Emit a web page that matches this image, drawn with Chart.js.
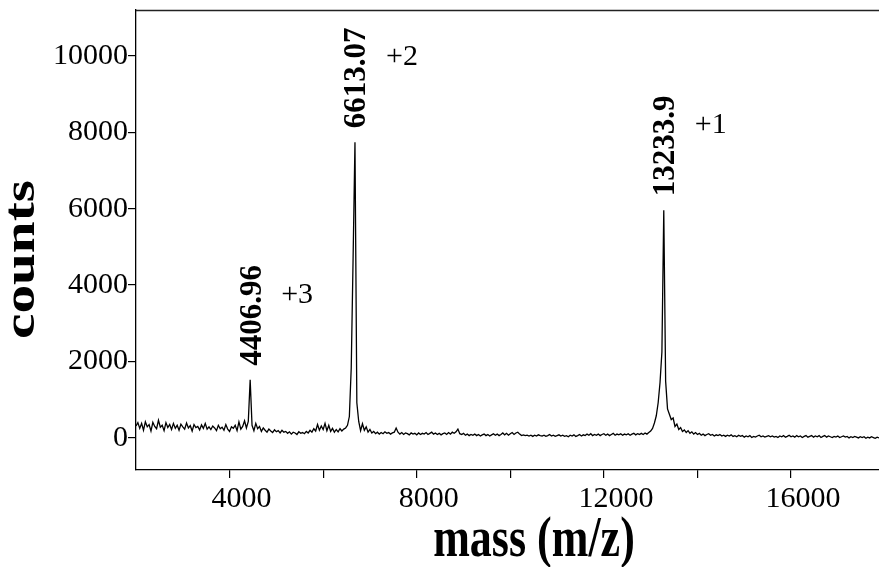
<!DOCTYPE html>
<html>
<head>
<meta charset="utf-8">
<script src="https://cdn.jsdelivr.net/npm/chart.js@4.4.0/dist/chart.umd.min.js"></script>
<style>
  html, body { margin: 0; padding: 0; background: #fff; }
  #wrap { width: 879px; height: 567px; position: relative; }
</style>
</head>
<body>
<div id="wrap"><canvas id="js-chart-spectrum"></canvas></div>
<script>
// spectrum sampled every 40 Da from 2000 Da
const massStart = 2000;
const massStep = 40;
const counts = [
  310, 400, 250, 380, 200, 420, 290, 350, 180, 410, 300, 240, 460, 280, 330, 190, 400, 270, 350, 220,
  380, 250, 330, 200, 360, 290, 230, 390, 260, 320, 180, 350, 270, 300, 210, 340, 250, 380, 230, 290,
  220, 310, 260, 190, 330, 240, 280, 200, 350, 230, 170, 290, 250, 330, 190, 420, 230, 300, 450, 260,
  430, 1520, 330, 190, 380, 240, 300, 170, 260, 200, 150, 230, 180, 140, 210, 160, 190, 130, 200, 150,
  170, 120, 160, 100, 150, 130, 90, 160, 120, 140, 110, 170, 130, 200, 150, 240, 180, 350, 200, 310,
  220, 380, 190, 330, 170, 250, 150, 220, 160, 240, 180, 230, 260, 330, 560, 1830, 4700, 7740, 920, 430,
  190, 370, 200, 290, 150, 220, 130, 170, 110, 150, 100, 140, 110, 160, 120, 140, 100, 130, 150, 260,
  150, 100, 140, 90, 130, 110, 80, 130, 100, 120, 80, 130, 90, 120, 100, 140, 90, 120, 150, 100,
  130, 90, 120, 80, 110, 130, 90, 140, 100, 150, 120, 160, 230, 110, 90, 120, 70, 100, 60, 90,
  70, 100, 60, 90, 50, 80, 100, 60, 90, 50, 80, 110, 70, 100, 60, 90, 130, 80, 120, 70,
  110, 140, 90, 130, 150, 100, 60, 80, 60, 70, 50, 70, 40, 70, 50, 80, 60, 50, 70, 40,
  60, 90, 50, 70, 40, 60, 80, 50, 70, 40, 60, 30, 70, 50, 80, 40, 60, 90, 50, 80,
  60, 100, 70, 110, 60, 90, 70, 100, 60, 90, 110, 70, 100, 60, 90, 120, 70, 100, 80, 110,
  70, 100, 80, 110, 70, 100, 120, 80, 110, 90, 120, 90, 130, 100, 140, 180, 250, 390, 580, 920,
  1450, 2250, 5960, 1480, 760, 620, 480, 520, 300, 360, 220, 270, 170, 210, 140, 190, 120, 160, 100, 140,
  90, 120, 70, 100, 60, 90, 110, 70, 90, 50, 80, 60, 90, 50, 70, 40, 70, 50, 80, 40,
  60, 30, 70, 40, 60, 20, 50, 30, 60, 10, 40, 20, 50, 70, 30, 50, 20, 40, 60, 30,
  50, 20, 40, 10, 50, 30, 60, 20, 40, 70, 30, 50, 20, 60, 30, 50, 10, 40, 60, 20,
  40, 60, 20, 50, 30, 60, 10, 40, 60, 20, 50, 30, 10, 40, 20, 50, 10, 30, 50, 20,
  40, 0, 30, 10, 40, 20, 0, 30, 10, 30, -10, 20, 0, 30, 10, -10, 20, 0
];

const peakMasses = [4406.96, 6613.07, 13233.9];
const peakLabels = ["4406.96", "6613.07", "13233.9"];
const chargeLabels = ["+3", "+2", "+1"];

const massTicks = [4000, 6000, 8000, 10000, 12000, 14000, 16000];
const massTickLabels = [4000, 8000, 12000, 16000];
const countTicks = [0, 2000, 4000, 6000, 8000, 10000];

const serif = '"Liberation Serif", "Times New Roman", serif';
Chart.defaults.font.family = serif;
Chart.defaults.color = "#000";

const points = counts.map((c, i) => ({ x: massStart + i * massStep, y: c }));

// peak labels + axis titles + top frame line
const spectrumDecor = {
    id: "spectrumDecor",
    afterDraw(chart) {
        const ctx = chart.ctx, a = chart.chartArea;
        const xs = chart.scales.x, ys = chart.scales.y;
        ctx.save();
        ctx.strokeStyle = "#222";
        ctx.lineWidth = 1.3;
        ctx.beginPath();
        ctx.moveTo(a.left, a.top + 0.5);
        ctx.lineTo(a.right, a.top + 0.5);
        ctx.stroke();

        ctx.fillStyle = "#000";
        peakMasses.forEach((m, k) => {
            // apex = highest sample within 200 Da of the labelled mass
            let best = null;
            points.forEach(p => {
                if (Math.abs(p.x - m) <= 200 && (!best || p.y > best.y)) best = p;
            });
            const px = xs.getPixelForValue(best.x);
            const py = ys.getPixelForValue(best.y);
            ctx.font = "bold 31px " + serif;
            const w = ctx.measureText(peakLabels[k]).width;
            ctx.save();
            ctx.translate(px, py - 14);
            ctx.rotate(-Math.PI / 2);
            ctx.textAlign = "left";
            ctx.textBaseline = "alphabetic";
            ctx.fillText(peakLabels[k], 0, 10.5);
            ctx.restore();
            const top = py - 14 - w;
            ctx.font = "30px " + serif;
            ctx.textAlign = "left";
            ctx.textBaseline = "alphabetic";
            ctx.fillText(chargeLabels[k], px + 31, top + 38);
        });

        ctx.font = "bold 44px " + serif;
        ctx.textAlign = "center";
        ctx.textBaseline = "alphabetic";
        ctx.save();
        ctx.translate(534, 556);
        ctx.scale(1, 1.3);
        ctx.fillText("mass (m/z)", 0, 0);
        ctx.restore();
        ctx.save();
        ctx.translate(34, 259.5);
        ctx.rotate(-Math.PI / 2);
        ctx.scale(1.3, 1);
        ctx.fillText("counts", 0, 0);
        ctx.restore();
        ctx.restore();
    }
};

new Chart(document.getElementById("js-chart-spectrum"), {
    type: "line",
    data: {
        datasets: [{
            data: points,
            borderColor: "#000",
            borderWidth: 1.3,
            pointRadius: 0,
            tension: 0,
            fill: false
        }]
    },
    options: {
        responsive: true,
        maintainAspectRatio: false,
        animation: false,
        layout: { padding: { top: 10, right: 0, bottom: 0, left: 0 } },
        plugins: { legend: { display: false }, tooltip: { enabled: false } },
        scales: {
            x: {
                type: "linear",
                min: 2000,
                max: 17880,
                afterBuildTicks: s => { s.ticks = massTicks.map(v => ({ value: v })); },
                afterFit: s => { s.height = 97; s.paddingLeft = 0; s.paddingRight = 0; },
                ticks: {
                    autoSkip: false,
                    maxRotation: 0,
                    padding: 3,
                    labelOffset: 12,
                    font: { size: 30 },
                    color: "#000",
                    callback: v => massTickLabels.includes(v) ? String(v) : ""
                },
                grid: { display: true, drawOnChartArea: false, drawTicks: true, tickLength: 8, color: "#000", lineWidth: 1.2 },
                border: { display: true, color: "#000", width: 1.3 }
            },
            y: {
                type: "linear",
                min: -840,
                max: 11200,
                afterBuildTicks: s => { s.ticks = countTicks.map(v => ({ value: v })); },
                afterFit: s => { s.width = 136; s.paddingTop = 0; s.paddingBottom = 0; },
                ticks: {
                    autoSkip: false,
                    padding: 0,
                    font: { size: 30 },
                    color: "#000",
                    callback: v => String(v)
                },
                grid: { display: true, drawOnChartArea: false, drawTicks: true, tickLength: 8, color: "#000", lineWidth: 1.2 },
                border: { display: true, color: "#000", width: 1.3 }
            }
        }
    },
    plugins: [spectrumDecor]
});
</script>
</body>
</html>
